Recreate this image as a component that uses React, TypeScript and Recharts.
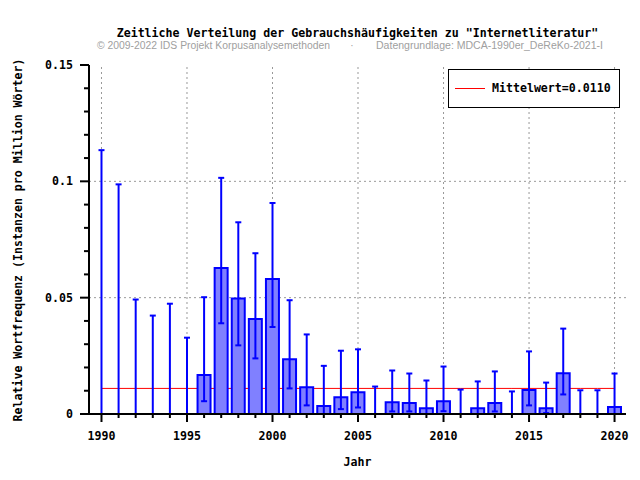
import React from 'react';
import { ComposedChart, Bar, Line, Scatter, XAxis, YAxis, ReferenceLine, ErrorBar, Legend } from 'recharts';

const years = [1990, 1991, 1992, 1993, 1994, 1995, 1996, 1997, 1998, 1999, 2000, 2001, 2002, 2003, 2004, 2005, 2006, 2007, 2008, 2009, 2010, 2011, 2012, 2013, 2014, 2015, 2016, 2017, 2018, 2019, 2020];
const freq = [0, 0, 0, 0, 0, 0, 0.0168, 0.0628, 0.0496, 0.0408, 0.058, 0.0235, 0.0115, 0.0034, 0.0072, 0.0093, 0, 0.0051, 0.0047, 0.0025, 0.0055, 0, 0.0025, 0.0047, 0, 0.0103, 0.0025, 0.0175, 0, 0, 0.003];
const upper = [0.1134, 0.0987, 0.0492, 0.0423, 0.0474, 0.0328, 0.0502, 0.1015, 0.0824, 0.0691, 0.0907, 0.0489, 0.0342, 0.0207, 0.0272, 0.0278, 0.0118, 0.0187, 0.0174, 0.0144, 0.0204, 0.0105, 0.014, 0.0183, 0.0097, 0.0269, 0.0135, 0.0367, 0.0102, 0.0102, 0.0174];
const lower = [0, 0, 0, 0, 0, 0, 0.0055, 0.039, 0.0295, 0.0239, 0.0374, 0.011, 0.0037, 0, 0.0021, 0.0028, 0, 0.0011, 0.0011, 0, 0.0012, 0, 0, 0.0011, 0, 0.0037, 0.0004, 0.0084, 0, 0, 0];
const meanValue = 0.011;
const meanLabel = 'Mittelwert=0.0110';
const xMajorTicks = [1990, 1995, 2000, 2005, 2010, 2015, 2020];
const yTicks = [0, 0.01, 0.02, 0.03, 0.04, 0.05, 0.06, 0.07, 0.08, 0.09, 0.1, 0.11, 0.12, 0.13, 0.14, 0.15];
const yMajorTicks = [0, 0.05, 0.1, 0.15];
const yTickLabels = ['0', '0.05', '0.1', '0.15'];
const gridY = [0.05, 0.1];

const titleText = 'Zeitliche Verteilung der Gebrauchshäufigkeiten zu "Internetliteratur"';
const copyrightText = '© 2009-2022 IDS Projekt Korpusanalysemethoden';
const sourceText = 'Datengrundlage: MDCA-1990er_DeReKo-2021-I';
const xLabel = 'Jahr';
const yLabel = 'Relative Wortfrequenz (Instanzen pro Million Wörter)';

const data = years.map((year, i) => ({
  year,
  value: freq[i],
  err: [freq[i] - lower[i], upper[i] - freq[i]],
  mean: meanValue,
}));

const MONO = "'DejaVu Sans Mono', 'Liberation Mono', monospace";
const SANS = "'Liberation Sans', Arial, sans-serif";
const FS = 11.6;

const XTick = (props: any) => {
  const { x, y, payload } = props;
  const major = xMajorTicks.includes(payload.value);
  return (
    <g>
      <line x1={x} x2={x} y1={y} y2={y + (major ? 8 : 4)} stroke="#000" strokeWidth={2} />
      {major && (
        <text x={x} y={y + 26} textAnchor="middle" fontFamily={MONO} fontWeight="bold" fontSize={FS} fill="#000">
          {payload.value}
        </text>
      )}
    </g>
  );
};

const YTick = (props: any) => {
  const { x, y, payload } = props;
  const idx = yMajorTicks.findIndex((v) => Math.abs(v - payload.value) < 1e-9);
  const major = idx >= 0;
  return (
    <g>
      <line x1={x} x2={x - (major ? 9 : 5)} y1={y} y2={y} stroke="#000" strokeWidth={2} />
      {major && (
        <text x={x - 16} y={y + 4} textAnchor="end" fontFamily={MONO} fontWeight="bold" fontSize={FS} fill="#000">
          {yTickLabels[idx]}
        </text>
      )}
    </g>
  );
};

const LegendContent = (props: any) => {
  const items = (props.payload || []).filter((p: any) => p.dataKey === 'mean');
  return (
    <svg width={172} height={39} style={{ display: 'block' }}>
      <rect x={0.5} y={0.5} width={171} height={38} fill="#fff" stroke="#000" strokeWidth={1} />
      {items.map((p: any, i: number) => (
        <g key={i}>
          <line x1={7} x2={37} y1={19.5} y2={19.5} stroke={p.color} strokeWidth={1} />
          <text x={44} y={23} fontFamily={MONO} fontWeight="bold" fontSize={FS} fill="#000">
            {p.value}
          </text>
        </g>
      ))}
    </svg>
  );
};

const NoShape = () => null;

export default function App() {
  return (
    <div style={{ width: 640, height: 480, background: '#fff' }}>
      <style>{'body{margin:0;background:#fff}'}</style>
      <ComposedChart
        width={640}
        height={480}
        data={data}
        margin={{ top: 65, right: 14, bottom: 0, left: 0 }}
      >
        {xMajorTicks.map((v) => (
          <ReferenceLine key={'gx' + v} x={v} stroke="#999" strokeDasharray="2 3" zIndex={-100} />
        ))}
        {gridY.map((v) => (
          <ReferenceLine key={'gy' + v} y={v} stroke="#999" strokeDasharray="2 3" zIndex={-100} />
        ))}
        <XAxis
          dataKey="year"
          type="number"
          domain={[1989.27, 2020.67]}
          allowDataOverflow
          ticks={years}
          interval={0}
          height={66}
          tickSize={0}
          tickMargin={0}
          tickLine={false}
          tick={<XTick />}
          axisLine={{ stroke: '#000', strokeWidth: 2 }}
          label={{ value: xLabel, position: 'insideBottom', offset: 14, fontFamily: MONO, fontWeight: 'bold', fontSize: FS, fill: '#000' }}
        />
        <XAxis
          xAxisId="top"
          orientation="top"
          type="number"
          domain={[1989.27, 2020.67]}
          height={0}
          tick={false}
          tickLine={false}
          axisLine={{ stroke: '#000', strokeWidth: 2 }}
        />
        <YAxis
          type="number"
          domain={[0, 0.15]}
          allowDataOverflow
          ticks={yTicks}
          interval={0}
          width={89}
          tickSize={0}
          tickMargin={0}
          tickLine={false}
          tick={<YTick />}
          axisLine={{ stroke: '#000', strokeWidth: 2 }}
        />
        <YAxis
          yAxisId="right"
          orientation="right"
          type="number"
          domain={[0, 0.15]}
          width={0}
          tick={false}
          tickLine={false}
          axisLine={{ stroke: '#000', strokeWidth: 2 }}
        />
        <Line
          dataKey="mean"
          name={meanLabel}
          stroke="#ff0000"
          strokeWidth={1}
          dot={false}
          activeDot={false}
          isAnimationActive={false}
          legendType="line"
          zIndex={250}
        />
        <Bar
          dataKey="value"
          barSize={13}
          fill="#8080ff"
          stroke="#0000ff"
          strokeWidth={2}
          legendType="none"
          isAnimationActive={false}
        />
        <Scatter dataKey="value" shape={<NoShape />} legendType="none" isAnimationActive={false}>
          <ErrorBar dataKey="err" direction="y" width={3} stroke="#0000ff" strokeWidth={2} isAnimationActive={false} />
        </Scatter>
        <Legend
          layout="horizontal"
          verticalAlign="middle"
          align="center"
          wrapperStyle={{ left: 448, top: 69, width: 172, height: 39 }}
          content={<LegendContent />}
        />
        <text x={357.5} y={37} textAnchor="middle" fontFamily={MONO} fontWeight="bold" fontSize={FS} fill="#000">
          {titleText}
        </text>
        <text x={97} y={49} fontFamily={SANS} fontSize={10} fill="#a0a0a0" textLength={233} lengthAdjust="spacingAndGlyphs">
          {copyrightText}
        </text>
        <text x={352} y={49} textAnchor="middle" fontFamily={SANS} fontSize={10} fill="#a0a0a0">
          ·
        </text>
        <text x={376} y={49} fontFamily={SANS} fontSize={10} fill="#a0a0a0" textLength={227} lengthAdjust="spacingAndGlyphs">
          {sourceText}
        </text>
        <text
          x={22}
          y={240}
          transform="rotate(-90 22 240)"
          textAnchor="middle"
          fontFamily={MONO}
          fontWeight="bold"
          fontSize={FS}
          fill="#000"
        >
          {yLabel}
        </text>
      </ComposedChart>
    </div>
  );
}
